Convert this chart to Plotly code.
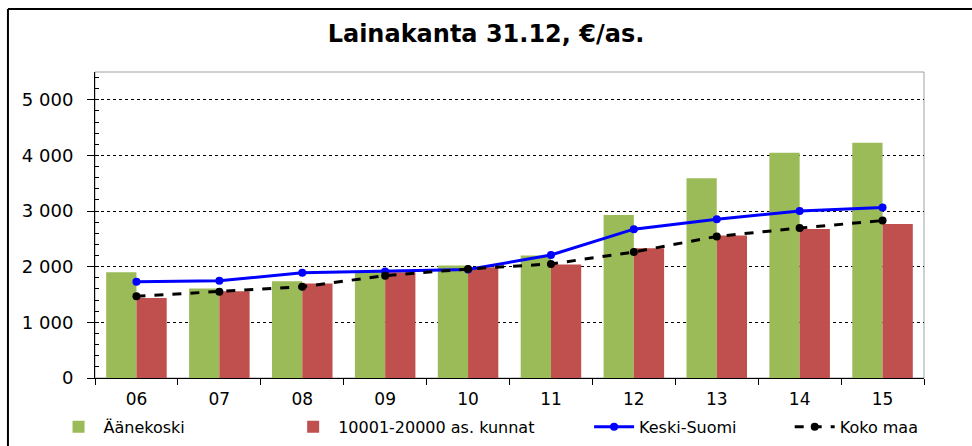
import plotly.graph_objects as go

years = ["06", "07", "08", "09", "10", "11", "12", "13", "14", "15"]
aanekoski = [1900, 1610, 1740, 1920, 2020, 2200, 2930, 3590, 4050, 4230]
kunnat = [1440, 1560, 1700, 1900, 1990, 2040, 2330, 2560, 2680, 2770]
keski_suomi = [1730, 1750, 1890, 1915, 1950, 2210, 2675, 2855, 3000, 3065]
koko_maa = [1470, 1550, 1640, 1840, 1960, 2050, 2265, 2545, 2695, 2830]

y_ticks = [0, 1000, 2000, 3000, 4000, 5000]
y_labels = ["0", "1 000", "2 000", "3 000", "4 000", "5 000"]

FONT = "DejaVu Sans, Liberation Sans, Arial, sans-serif"

fig = go.Figure()
fig.add_trace(go.Bar(x=years, y=aanekoski, name="Äänekoski",
                     marker=dict(color="#9BBB59", line=dict(width=0)),
                     legend="legend"))
fig.add_trace(go.Bar(x=years, y=kunnat, name="10001-20000 as. kunnat",
                     marker=dict(color="#C0504D", line=dict(width=0)),
                     legend="legend2"))
fig.add_trace(go.Scatter(x=years, y=keski_suomi, name="Keski-Suomi",
                         mode="lines+markers",
                         line=dict(color="#0000FF", width=3),
                         marker=dict(color="#0000FF", size=8),
                         legend="legend3"))
fig.add_trace(go.Scatter(x=years, y=koko_maa, name="Koko maa",
                         mode="lines+markers",
                         line=dict(color="black", width=3, dash="dash"),
                         marker=dict(color="black", size=8),
                         legend="legend4"))

# one legend per series so each entry sits where it does in the original
leg = dict(orientation="h", yanchor="middle", y=-0.16, xanchor="left",
           bgcolor="rgba(0,0,0,0)", font=dict(family=FONT, size=16, color="black"),
           itemwidth=40, tracegroupgap=0)
fig.update_layout(
    legend=dict(leg, x=-0.05),
    legend2=dict(leg, x=0.233),
    legend3=dict(leg, x=0.596),
    legend4=dict(leg, x=0.838),
)

fig.update_layout(
    width=972, height=446,
    margin=dict(l=95, r=48, t=72, b=68, autoexpand=False),
    paper_bgcolor="white", plot_bgcolor="white",
    barmode="group", bargap=0.27, bargroupgap=0,
    title=dict(text="<b>Lainakanta 31.12, €/as.</b>", x=0.5, xref="container",
               y=0.925, yanchor="middle",
               font=dict(family=FONT, size=24, color="black")),
    font=dict(family=FONT, size=16, color="black"),
    showlegend=True,
)

fig.update_xaxes(type="category", range=[-0.5, 9.5], autorange=False,
                 showline=True, linecolor="black", linewidth=1,
                 ticks="outside", tickson="boundaries", ticklen=6, tickcolor="black",
                 ticklabelstandoff=6,
                 showgrid=False, tickfont=dict(size=17), automargin=False)
fig.update_yaxes(range=[0, 5500], tickvals=y_ticks, ticktext=y_labels,
                 showline=True, linecolor="black", linewidth=1,
                 ticks="outside", ticklen=7, tickcolor="black", ticklabelstandoff=10,
                 showgrid=True, gridcolor="black", griddash="dot", gridwidth=1,
                 zeroline=False, tickfont=dict(size=18), automargin=False,
                 minor=dict(dtick=200, ticks="inside", ticklen=4, tickcolor="black",
                            showgrid=False))

# plot area border (grey) and outer chart frame
fig.add_shape(type="rect", xref="paper", yref="paper", x0=0, x1=1, y0=0, y1=1,
              line=dict(color="#A0A0A0", width=1), layer="below")
fig.add_shape(type="line", xref="paper", yref="paper", x0=-0.105, x1=1.1,
              y0=1.206, y1=1.206, line=dict(color="black", width=2))
fig.add_shape(type="line", xref="paper", yref="paper", x0=-0.105, x1=-0.105,
              y0=1.206, y1=-0.3, line=dict(color="black", width=2))

fig.write_html("out.html", config={"displayModeBar": False},
               post_script="document.body.style.margin='0';")
